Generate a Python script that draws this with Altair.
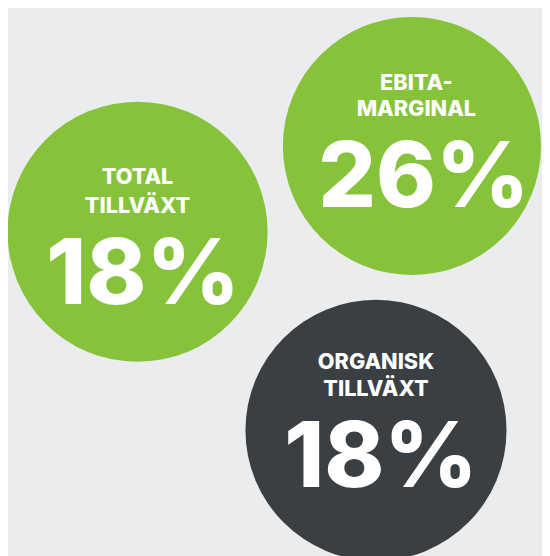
import altair as alt
import pandas as pd

# ---- content ----
label_line1 = ["TOTAL", "EBITA-", "ORGANISK"]
label_line2 = ["TILLVÄXT", "MARGINAL", "TILLVÄXT"]
values = [18, 26, 18]
fills = ["#86c33b", "#86c33b", "#393f43"]

# ---- layout (page pixel coordinates) ----
circle_x = [139.5, 418, 381.5]
circle_y = [231, 144, 432.5]
circle_r = [132, 131, 132.5]
label_x = [139.5, 422.5, 381.5]
value_x = [145, 430, 386.5]
line1_base = [183, 87, 370]
line2_base = [212, 114, 398]
value_base = [304, 206, 490]

df = pd.DataFrame({
    "l1": label_line1,
    "l2": label_line2,
    "val": [f"{v}%" for v in values],
    "fill": fills,
    "cx": circle_x,
    "cy": circle_y,
    "r": circle_r,
    "lx": label_x,
    "vx": value_x,
    "y1": line1_base,
    "y2": line2_base,
    "yv": value_base,
})
# Vega circle symbol: radius = sqrt(size) / 2
df["area"] = [(2 * r) ** 2 for r in df["r"]]

W, H = 542, 548
xs = alt.Scale(domain=[8, 550], range=[0, W])
ys = alt.Scale(domain=[8, 556], range=[0, H])

base = alt.Chart(df)

circles = base.mark_circle(opacity=1).encode(
    x=alt.X("cx:Q", scale=xs, axis=None),
    y=alt.Y("cy:Q", scale=ys, axis=None),
    size=alt.Size("area:Q", scale=None),
    color=alt.Color("fill:N", scale=None),
)

font = "Inter"

def txt(field, xfield, yfield, size, weight):
    return base.mark_text(
        font=font, fontSize=size, fontWeight=weight, color="white",
        align="center", baseline="alphabetic",
    ).encode(
        x=alt.X(f"{xfield}:Q", scale=xs, axis=None),
        y=alt.Y(f"{yfield}:Q", scale=ys, axis=None),
        text=alt.Text(f"{field}:N"),
    )

chart = alt.layer(
    circles,
    txt("l1", "lx", "y1", 22, 800),
    txt("l2", "lx", "y2", 22, 800),
    txt("val", "vx", "yv", 92, 800),
).properties(
    width=W, height=H, background="#ebeced", padding=0,
    autosize=alt.AutoSizeParams(type="none"),
).configure_view(stroke=None)

chart.save("out.html", embed_options={"renderer": "svg", "actions": False})
